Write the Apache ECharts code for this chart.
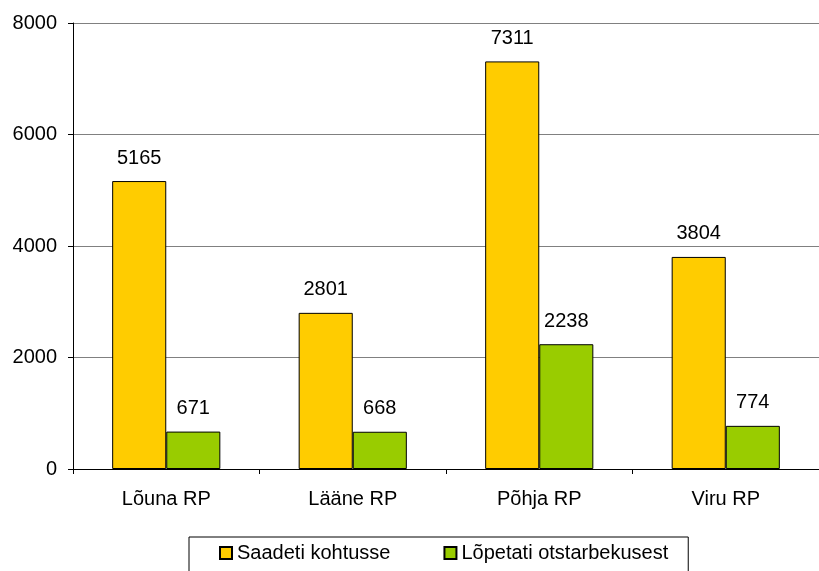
<!DOCTYPE html>
<html>
<head>
<meta charset="utf-8">
<script src="https://cdn.jsdelivr.net/npm/echarts@6/dist/echarts.min.js"></script>
<style>html,body{margin:0;padding:0;background:#fff}#c{width:819px;height:571px}</style>
</head>
<body>
<div id="c"></div>
<script>
const categories = ['Lõuna RP', 'Lääne RP', 'Põhja RP', 'Viru RP'];
const seriesNames = ['Saadeti kohtusse', 'Lõpetati otstarbekusest'];
const saadeti = [5165, 2801, 7311, 3804];
const lopetati = [671, 668, 2238, 774];
const yTicks = [0, 2000, 4000, 6000, 8000];

const FONT = '"Liberation Sans", Arial, sans-serif';
const chart = echarts.init(document.getElementById('c'), null, {renderer: 'canvas'});
const labelCfg = {show: true, position: 'top', distance: 13, color: '#000', fontSize: 20, fontFamily: FONT};
chart.setOption({
  animation: false,
  backgroundColor: '#fff',
  grid: {left: 73, top: 23, right: 0, bottom: 102, containLabel: false},
  xAxis: {
    type: 'category', data: categories,
    axisLine: {lineStyle: {color: '#000', width: 1}},
    axisTick: {show: true, length: 5, lineStyle: {color: '#000'}},
    axisLabel: {color: '#000', fontSize: 20, fontFamily: FONT, margin: 20}
  },
  yAxis: {
    type: 'value', min: yTicks[0], max: yTicks[yTicks.length - 1], interval: 2000,
    axisLine: {show: true, lineStyle: {color: '#000', width: 1}},
    axisTick: {show: true, length: 5, lineStyle: {color: '#000'}},
    axisLabel: {color: '#000', fontSize: 20, fontFamily: FONT, margin: 16, formatter: v => String(v)},
    splitLine: {show: true, lineStyle: {color: '#808080', width: 1}}
  },
  legend: {
    left: 189, top: 537,
    padding: [6, 20, 9, 30],
    borderColor: '#000', borderWidth: 1,
    itemWidth: 12, itemHeight: 12, itemGap: 53,
    icon: 'rect',
    textStyle: {color: '#000', fontSize: 20, fontFamily: FONT},
    data: seriesNames
  },
  series: [
    {name: seriesNames[0], type: 'bar', data: saadeti, barGap: '0%', barCategoryGap: '42%',
     itemStyle: {color: '#FFCC00', borderColor: '#000', borderWidth: 1}, label: labelCfg},
    {name: seriesNames[1], type: 'bar', data: lopetati,
     itemStyle: {color: '#99CC00', borderColor: '#000', borderWidth: 1}, label: labelCfg}
  ]
});
</script>
</body>
</html>
